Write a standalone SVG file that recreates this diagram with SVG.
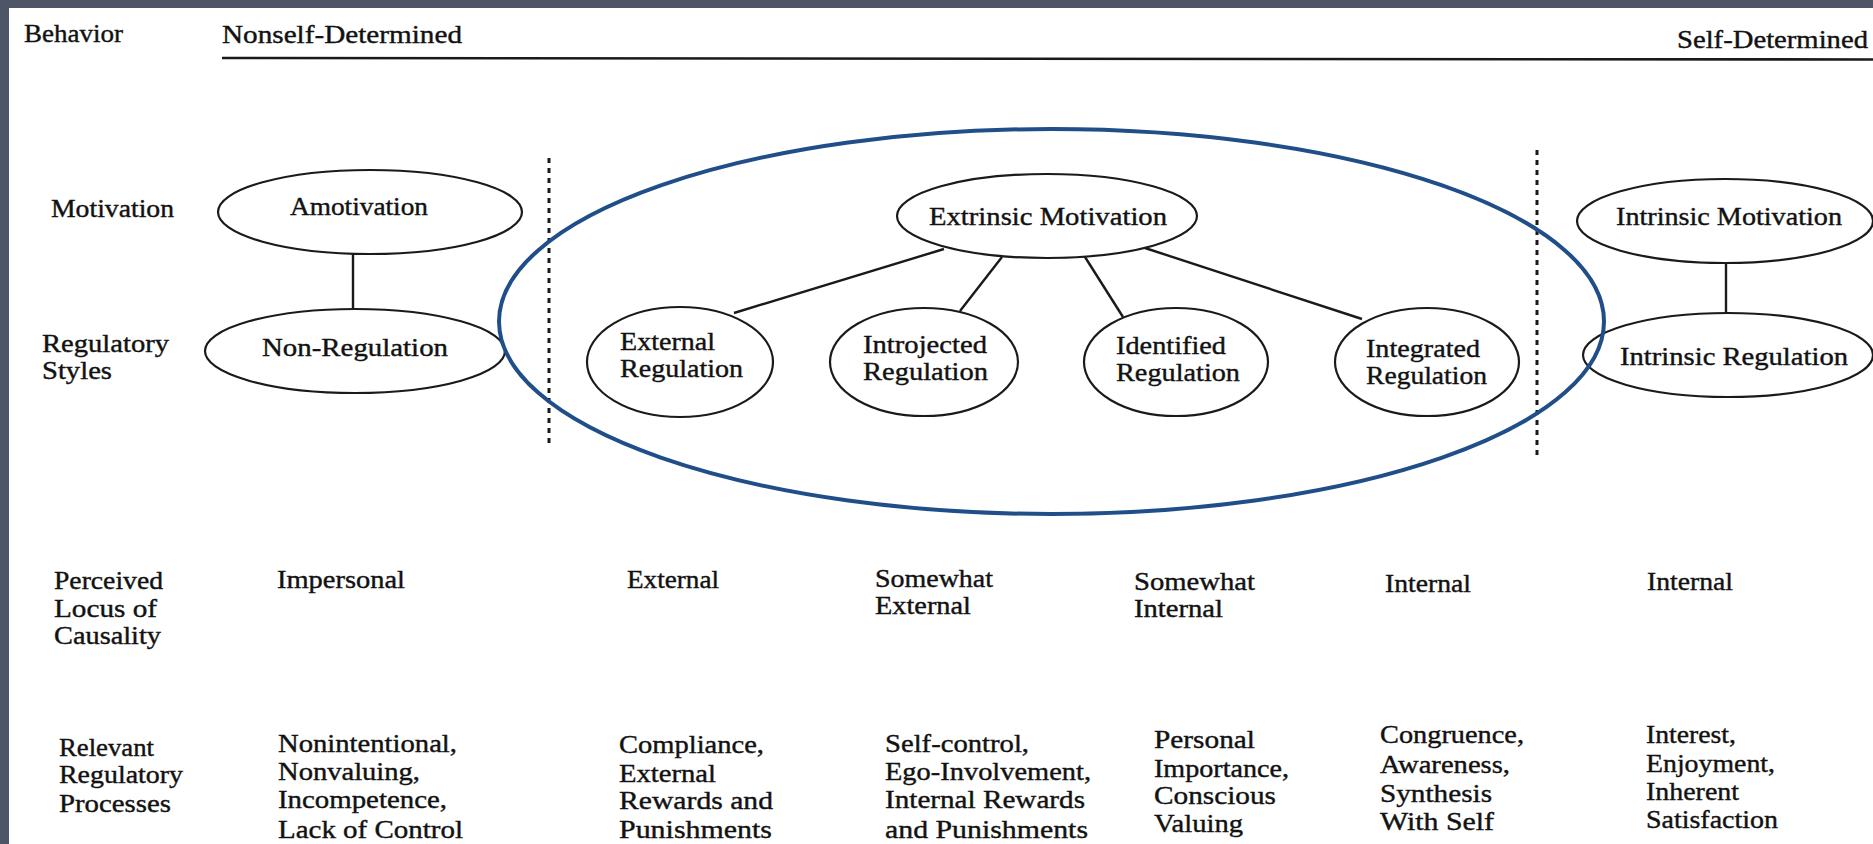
<svg xmlns="http://www.w3.org/2000/svg" width="1873" height="844" viewBox="0 0 1873 844">
<defs>
<style>
text{font-family:"Liberation Serif","Times New Roman",serif;font-size:26px;fill:#121212;stroke:#121212;stroke-width:0.4}
.n{fill:#fff;stroke:#1a1a1a;stroke-width:2.2}
.c{stroke:#1a1a1a;stroke-width:2.4;fill:none}
.d{stroke:#1a1a1a;stroke-width:3;stroke-dasharray:5 5;fill:none}
</style>
</defs>
<rect x="0" y="0" width="1873" height="844" fill="#4d5566"/>
<rect x="9" y="8" width="1864" height="836" fill="#fff"/>

<g id="header">
<text x="24" y="42" textLength="99" lengthAdjust="spacingAndGlyphs">Behavior</text>
<text x="222" y="43" textLength="240" lengthAdjust="spacingAndGlyphs">Nonself-Determined</text>
<text x="1677" y="48" textLength="191" lengthAdjust="spacingAndGlyphs">Self-Determined</text>
<line x1="222" y1="58" x2="1873" y2="59.5" stroke="#1a1a1a" stroke-width="2.6"/>
</g>

<g id="dividers">
<line class="d" x1="549" y1="158" x2="549" y2="447"/>
<line class="d" x1="1537" y1="150" x2="1537" y2="458"/>
</g>

<g id="row-labels">
<text x="51" y="217" textLength="123" lengthAdjust="spacingAndGlyphs">Motivation</text>
<text x="42" y="352" textLength="127" lengthAdjust="spacingAndGlyphs">Regulatory</text>
<text x="42" y="379" textLength="70" lengthAdjust="spacingAndGlyphs">Styles</text>
<text x="54" y="589" textLength="109" lengthAdjust="spacingAndGlyphs">Perceived</text>
<text x="54" y="617" textLength="103" lengthAdjust="spacingAndGlyphs">Locus of</text>
<text x="54" y="644" textLength="107" lengthAdjust="spacingAndGlyphs">Causality</text>
<text x="59" y="756" textLength="95" lengthAdjust="spacingAndGlyphs">Relevant</text>
<text x="59" y="783" textLength="124" lengthAdjust="spacingAndGlyphs">Regulatory</text>
<text x="59" y="812" textLength="112" lengthAdjust="spacingAndGlyphs">Processes</text>
</g>

<g id="connectors">
<line class="c" x1="353" y1="254" x2="353" y2="309"/>
<line class="c" x1="944" y1="249" x2="734" y2="313"/>
<line class="c" x1="1002" y1="257" x2="960" y2="311"/>
<line class="c" x1="1085" y1="257" x2="1123" y2="317"/>
<line class="c" x1="1145" y1="248" x2="1362" y2="319"/>
<line class="c" x1="1726" y1="263" x2="1726" y2="313"/>
</g>

<g id="amotivation">
<ellipse class="n" cx="370" cy="212" rx="152" ry="42"/>
<text x="290" y="215" textLength="138" lengthAdjust="spacingAndGlyphs">Amotivation</text>
</g>
<g id="non-regulation">
<ellipse class="n" cx="355" cy="351" rx="150" ry="42"/>
<text x="262" y="356" textLength="186" lengthAdjust="spacingAndGlyphs">Non-Regulation</text>
</g>
<g id="extrinsic-motivation">
<ellipse class="n" cx="1047" cy="216" rx="150" ry="42"/>
<text x="929" y="225" textLength="238" lengthAdjust="spacingAndGlyphs">Extrinsic Motivation</text>
</g>
<g id="external-regulation">
<ellipse class="n" cx="680" cy="362" rx="93" ry="55"/>
<text x="620" y="350" textLength="95" lengthAdjust="spacingAndGlyphs">External</text>
<text x="620" y="377" textLength="123" lengthAdjust="spacingAndGlyphs">Regulation</text>
</g>
<g id="introjected-regulation">
<ellipse class="n" cx="924" cy="362" rx="94" ry="54"/>
<text x="863" y="353" textLength="124" lengthAdjust="spacingAndGlyphs">Introjected</text>
<text x="863" y="380" textLength="125" lengthAdjust="spacingAndGlyphs">Regulation</text>
</g>
<g id="identified-regulation">
<ellipse class="n" cx="1176" cy="362" rx="92" ry="54"/>
<text x="1116" y="354" textLength="110" lengthAdjust="spacingAndGlyphs">Identified</text>
<text x="1116" y="381" textLength="124" lengthAdjust="spacingAndGlyphs">Regulation</text>
</g>
<g id="integrated-regulation">
<ellipse class="n" cx="1427" cy="362" rx="92" ry="54"/>
<text x="1366" y="357" textLength="114" lengthAdjust="spacingAndGlyphs">Integrated</text>
<text x="1366" y="384" textLength="121" lengthAdjust="spacingAndGlyphs">Regulation</text>
</g>
<g id="intrinsic-motivation">
<ellipse class="n" cx="1725" cy="221" rx="148" ry="42"/>
<text x="1616" y="225" textLength="226" lengthAdjust="spacingAndGlyphs">Intrinsic Motivation</text>
</g>
<g id="intrinsic-regulation">
<ellipse class="n" cx="1728" cy="355" rx="145" ry="42"/>
<text x="1620" y="365" textLength="228" lengthAdjust="spacingAndGlyphs">Intrinsic Regulation</text>
</g>

<g id="extrinsic-highlight">
<ellipse cx="1051.5" cy="321.5" rx="552.5" ry="192.5" fill="none" stroke="#1f4e89" stroke-width="4"/>
</g>

<g id="locus">
<text x="277" y="588" textLength="128" lengthAdjust="spacingAndGlyphs">Impersonal</text>
<text x="627" y="588" textLength="92" lengthAdjust="spacingAndGlyphs">External</text>
<text x="875" y="587" textLength="118" lengthAdjust="spacingAndGlyphs">Somewhat</text>
<text x="875" y="614" textLength="96" lengthAdjust="spacingAndGlyphs">External</text>
<text x="1134" y="590" textLength="121" lengthAdjust="spacingAndGlyphs">Somewhat</text>
<text x="1134" y="617" textLength="89" lengthAdjust="spacingAndGlyphs">Internal</text>
<text x="1385" y="592" textLength="86" lengthAdjust="spacingAndGlyphs">Internal</text>
<text x="1647" y="590" textLength="86" lengthAdjust="spacingAndGlyphs">Internal</text>
</g>

<g id="processes">
<text x="278" y="752" textLength="179" lengthAdjust="spacingAndGlyphs">Nonintentional,</text>
<text x="278" y="780" textLength="142" lengthAdjust="spacingAndGlyphs">Nonvaluing,</text>
<text x="278" y="808" textLength="169" lengthAdjust="spacingAndGlyphs">Incompetence,</text>
<text x="278" y="838" textLength="185" lengthAdjust="spacingAndGlyphs">Lack of Control</text>
<text x="619" y="753" textLength="145" lengthAdjust="spacingAndGlyphs">Compliance,</text>
<text x="619" y="782" textLength="97" lengthAdjust="spacingAndGlyphs">External</text>
<text x="619" y="809" textLength="154" lengthAdjust="spacingAndGlyphs">Rewards and</text>
<text x="619" y="838" textLength="153" lengthAdjust="spacingAndGlyphs">Punishments</text>
<text x="885" y="752" textLength="144" lengthAdjust="spacingAndGlyphs">Self-control,</text>
<text x="885" y="780" textLength="206" lengthAdjust="spacingAndGlyphs">Ego-Involvement,</text>
<text x="885" y="808" textLength="200" lengthAdjust="spacingAndGlyphs">Internal Rewards</text>
<text x="885" y="838" textLength="203" lengthAdjust="spacingAndGlyphs">and Punishments</text>
<text x="1154" y="748" textLength="101" lengthAdjust="spacingAndGlyphs">Personal</text>
<text x="1154" y="777" textLength="135" lengthAdjust="spacingAndGlyphs">Importance,</text>
<text x="1154" y="804" textLength="122" lengthAdjust="spacingAndGlyphs">Conscious</text>
<text x="1154" y="832" textLength="89" lengthAdjust="spacingAndGlyphs">Valuing</text>
<text x="1380" y="743" textLength="144" lengthAdjust="spacingAndGlyphs">Congruence,</text>
<text x="1380" y="773" textLength="130" lengthAdjust="spacingAndGlyphs">Awareness,</text>
<text x="1380" y="802" textLength="112" lengthAdjust="spacingAndGlyphs">Synthesis</text>
<text x="1380" y="830" textLength="114" lengthAdjust="spacingAndGlyphs">With Self</text>
<text x="1646" y="743" textLength="90" lengthAdjust="spacingAndGlyphs">Interest,</text>
<text x="1646" y="772" textLength="129" lengthAdjust="spacingAndGlyphs">Enjoyment,</text>
<text x="1646" y="800" textLength="93" lengthAdjust="spacingAndGlyphs">Inherent</text>
<text x="1646" y="828" textLength="132" lengthAdjust="spacingAndGlyphs">Satisfaction</text>
</g>
</svg>
